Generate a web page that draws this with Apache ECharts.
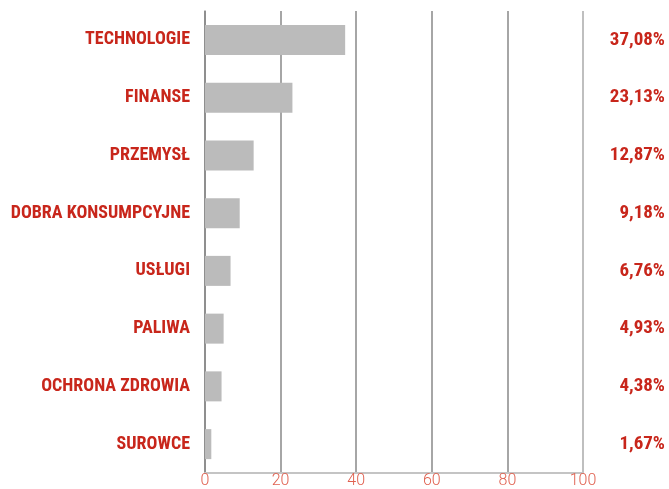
<!DOCTYPE html>
<html><head><meta charset="utf-8">
<script src="https://cdn.jsdelivr.net/npm/echarts@6/dist/echarts.min.js"></script>
<style>html,body{margin:0;padding:0;background:#fff}#c{width:669px;height:489px}</style>
</head><body><div id="c"></div>
<script>
const categories = ['TECHNOLOGIE','FINANSE','PRZEMYSŁ','DOBRA KONSUMPCYJNE','USŁUGI','PALIWA','OCHRONA ZDROWIA','SUROWCE'];
const values = [37.08, 23.13, 12.87, 9.18, 6.76, 4.93, 4.38, 1.67];
const xTicks = [0, 20, 40, 60, 80, 100];
const pctLabels = values.map(v => v.toFixed(2).replace('.', ',') + '%');
const red = '#c8261b';
const font = "'Liberation Sans Narrow', 'Arial Narrow', 'Roboto Condensed', sans-serif";
const chart = echarts.init(document.getElementById('c'));
chart.setOption({
  animation: false,
  grid: { left: 205, right: 86, top: 11, bottom: 12 },
  xAxis: {
    type: 'value', min: xTicks[0], max: xTicks[xTicks.length - 1], interval: 20,
    axisLine: { show: true, lineStyle: { color: '#c4c4c4', width: 2 } },
    axisTick: { show: false },
    axisLabel: { color: '#e0604f', fontSize: 16, fontFamily: 'Roboto, sans-serif', fontWeight: 300, margin: 0,
      formatter: v => xTicks.includes(v) ? String(v) : '' },
    splitLine: { show: true, lineStyle: { color: ['#888', '#888', '#888', '#888', '#888', '#aaa'], width: 1.5 } }
  },
  yAxis: [{
    type: 'category', data: categories, inverse: true,
    axisLine: { show: true, lineStyle: { color: '#888', width: 1.5 } },
    axisTick: { show: false },
    axisLabel: { color: red, fontSize: 18, fontWeight: 'bold', fontFamily: font, margin: 15 }
  }, {
    type: 'category', data: pctLabels, inverse: true, position: 'right',
    axisLine: { show: false }, axisTick: { show: false },
    axisLabel: { color: red, fontSize: 19, fontWeight: 'bold', fontFamily: font, margin: 82, align: 'right' }
  }],
  series: [{
    type: 'bar', data: values, yAxisIndex: 0, barWidth: 30,
    itemStyle: { color: '#bbbbbb' }, silent: true
  }]
});
</script></body></html>
